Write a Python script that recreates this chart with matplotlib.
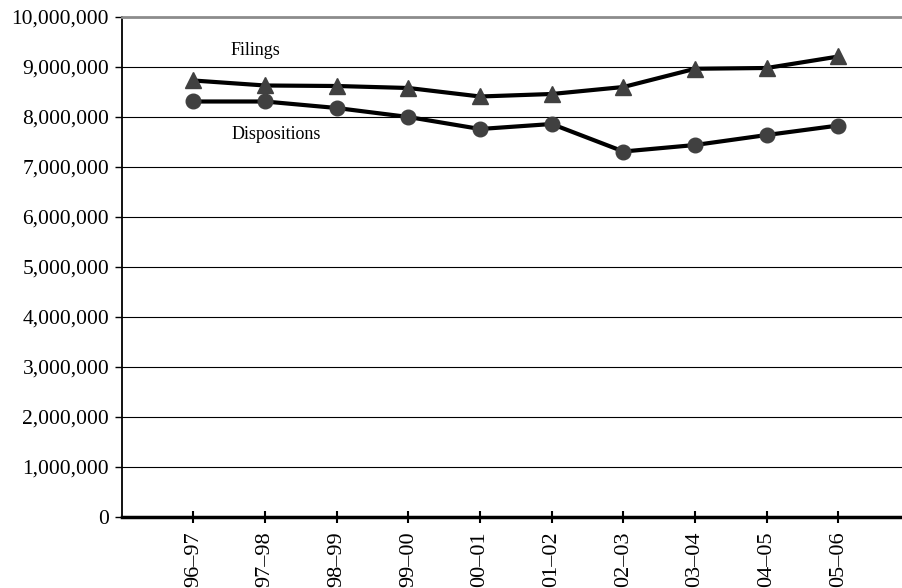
import matplotlib.pyplot as plt
from matplotlib.ticker import FuncFormatter

# data
years = ['96–97', '97–98', '98–99', '99–00', '00–01',
         '01–02', '02–03', '03–04', '04–05', '05–06']
filings = [8730000, 8630000, 8620000, 8580000, 8410000,
           8460000, 8600000, 8965000, 8980000, 9210000]
dispositions = [8310000, 8310000, 8180000, 8000000, 7760000,
                7860000, 7310000, 7440000, 7640000, 7830000]

plt.rcParams['font.family'] = ['Liberation Serif', 'DejaVu Serif']

fig = plt.figure(figsize=(9.03, 5.88), dpi=100)
ax = fig.add_axes([0.1347, 0.1207, 0.8653, 0.8504])

x = list(range(1, len(years) + 1))
ax.plot(x, filings, color='black', lw=3, marker='^', ms=11,
        mfc='#404040', mec='#404040', zorder=3)
ax.plot(x, dispositions, color='black', lw=3, marker='o', ms=10.5,
        mfc='#404040', mec='#404040', zorder=3)

ax.text(1.86, 9330000, 'Filings', fontsize=13, ha='center', va='center')
ax.text(2.16, 7660000, 'Dispositions', fontsize=13, ha='center', va='center')

ax.set_xlim(0, 10.9)
ax.set_ylim(0, 10000000)
ax.set_yticks(range(0, 10000001, 1000000))
ax.yaxis.set_major_formatter(FuncFormatter(lambda v, p: f'{int(v):,}'))
ax.set_xticks(x)
ax.set_xticklabels(years, rotation=90, fontsize=16)

ax.grid(axis='y', color='black', lw=0.8)
ax.set_axisbelow(True)

ax.spines['right'].set_visible(False)
ax.spines['top'].set_color('#8c8c8c')
ax.spines['top'].set_linewidth(2)
ax.spines['left'].set_linewidth(1.3)
ax.spines['bottom'].set_linewidth(2.5)

ax.tick_params(axis='y', direction='out', length=5, width=1, labelsize=15.5, pad=4)
ax.tick_params(axis='x', direction='inout', length=9, width=1.5, pad=6)

fig.savefig('out.png', dpi=100)
